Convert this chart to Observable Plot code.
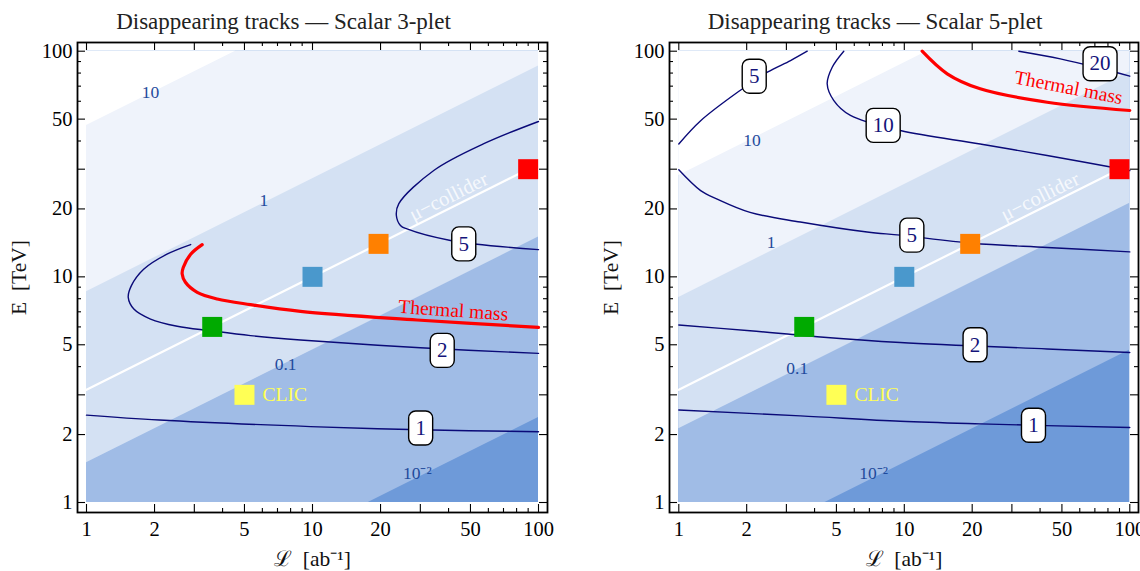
<!DOCTYPE html>
<html><head><meta charset="utf-8">
<script src="https://cdn.jsdelivr.net/npm/d3@7"></script>
<script src="https://cdn.jsdelivr.net/npm/@observablehq/plot@0.6"></script>
<style>
body{margin:0;background:#fff;}
#wrap{display:flex;width:1140px;height:571px;overflow:hidden;}
#wrap svg{display:block;flex:none;}
</style></head><body><div id="wrap"></div>
<script>
// ---------------- data ----------------
const xMajor = [1, 2, 3, 5, 10, 20, 30, 50, 100];
const xMinor = [4, 6, 7, 8, 9, 40, 60, 70, 80, 90];
const tickLabels = [1, 2, 5, 10, 20, 50, 100];

// band boundaries: straight lines E = E1 * L^slope (E1 = value at L = 1), ordered D, C, B, A
const bandSlope = 0.5;
const bandColors = ["#6e9ad9", "#a0bce6", "#d4e1f3", "#eff3fb", "#ffffff"];
const bandLabels = ["10⁻²", "0.1", "1", "10"];
const bandE1_3 = [0.238, 1.5, 8.6, 46.8];
const bandLabelL_3 = [29.1, 7.6, 6.09, 1.92];
const bandLabelE_3 = [1.34, 4.11, 21.8, 65.6];
const bandE1_5 = [0.474, 2.12, 8.1, 28.1];
const bandLabelL_5 = [7.32, 3.35, 2.57, 2.11];
const bandLabelE_5 = [1.34, 3.91, 14.2, 40.2];

// muon-collider line and benchmark points
const muL = [1, 90];
const muE = [3.16, 30];
const colliderNames = ["CLIC", "μC 6 TeV", "μC 10 TeV", "μC 14 TeV", "μC 30 TeV"];
const colliderL = [5, 3.6, 10, 19.6, 90];
const colliderE = [3, 6, 10, 14, 30];
const colliderColors = ["#ffff55", "#00aa00", "#4a98cc", "#ff8000", "#ff0000"];

// Scalar 3-plet contours
const c3_1_L = [1, 2.1, 9.8, 30, 100];
const c3_1_E = [2.44, 2.32, 2.17, 2.10, 2.06];
const c3_2_L = [2.89, 2.27, 1.79, 1.58, 1.53, 1.62, 1.92, 2.52, 3.54, 5.32, 8.85, 30, 100];
const c3_2_E = [13.9, 12.6, 10.8, 9.14, 8.11, 7.20, 6.50, 6.04, 5.77, 5.49, 5.25, 4.85, 4.58];
const c3_5_L = [100, 57.3, 34.4, 24.1, 23.5, 24.5, 26.2, 40.8, 100];
const c3_5_E = [48.8, 38.9, 29.6, 21.1, 18.7, 16.9, 16.3, 14.5, 13.2];
const th3_L = [3.25, 2.89, 2.68, 2.65, 2.74, 3.09, 3.79, 5.32, 8.85, 29, 100];
const th3_E = [13.9, 12.6, 11.0, 10.3, 9.46, 8.54, 7.98, 7.53, 7.03, 6.44, 5.97];
const box3_T = ["5", "2", "1"];
const box3_L = [46.7, 37.5, 30.1];
const box3_E = [14.0, 4.72, 2.14];

// Scalar 5-plet contours
const c5_1_L = [1, 3.46, 9.6, 21.7, 100];
const c5_1_E = [2.57, 2.42, 2.29, 2.23, 2.15];
const c5_2_L = [1, 2.07, 4.11, 9.6, 43, 100];
const c5_2_E = [6.12, 5.77, 5.43, 5.12, 4.79, 4.62];
const c5_5a_L = [1, 1.25, 1.87, 2.47, 3.13, 3.71];
const c5_5a_E = [38.8, 49.2, 67, 80.7, 90.9, 100];
const c5_5b_L = [1, 1.25, 1.48, 2.07, 3.46, 6.84, 9.6, 20, 43, 100];
const c5_5b_E = [29.8, 24.1, 22.1, 19.3, 17.5, 15.8, 15.3, 14.1, 13.5, 12.9];
const c5_10_L = [5.39, 4.79, 4.55, 4.87, 5.77, 9.6, 21.7, 43, 100];
const c5_10_E = [100, 84.9, 71.7, 60.4, 51.9, 44.5, 38.8, 34.5, 29.6];
const c5_20_L = [32.2, 49.2, 73.8, 100];
const c5_20_E = [100, 92.5, 84, 77.5];
const th5_L = [12.0, 15.5, 21.7, 43, 100];
const th5_E = [100, 79.4, 68.1, 59.4, 54.6];
const box5_T = ["5", "10", "5", "2", "1", "20"];
const box5_L = [2.16, 8.06, 10.8, 20.6, 37.4, 73.8];
const box5_E = [77.5, 46.9, 15.3, 5.0, 2.20, 88];

// ---------------- helpers ----------------
const FONT = "'Liberation Serif','Times New Roman',serif";
const NAVY = "#0a0a78";
const zip = (a, b) => a.map((v, i) => [v, b[i]]);

function roundBox(w, h, r) {
  return {draw(ctx) {
    const x0 = -w / 2, y0 = -h / 2, x1 = w / 2, y1 = h / 2;
    ctx.moveTo(x0 + r, y0);
    ctx.lineTo(x1 - r, y0);
    ctx.arcTo(x1, y0, x1, y0 + r, r);
    ctx.lineTo(x1, y1 - r);
    ctx.arcTo(x1, y1, x1 - r, y1, r);
    ctx.lineTo(x0 + r, y1);
    ctx.arcTo(x0, y1, x0, y1 - r, r);
    ctx.lineTo(x0, y0 + r);
    ctx.arcTo(x0, y0, x0 + r, y0, r);
    ctx.closePath();
  }};
}
const boxNarrow = roundBox(24, 34, 7);
const boxWide = roundBox(34, 34, 7);

function panel(cfg) {
  const W = 570, H = 571, mT = 42, mB = 59;
  const frameW = W - cfg.mL - cfg.mR, frameH = H - mT - mB;
  const marks = [];
  // bands (painted from the darkest one upward)
  marks.push(Plot.area([1, 100], {x1: d => d, y1: () => 1, y2: () => 100, fill: bandColors[0]}));
  cfg.bandE1.forEach((a, i) => {
    const xs = [1, 100];
    const k1 = Math.pow(1 / a, 1 / bandSlope), k2 = Math.pow(100 / a, 1 / bandSlope);
    if (k1 > 1 && k1 < 100) xs.push(k1);
    if (k2 > 1 && k2 < 100) xs.push(k2);
    xs.sort((p, q) => p - q);
    const pts = xs.map(x => ({x, lo: Math.min(100, Math.max(1, a * Math.pow(x, bandSlope)))}));
    marks.push(Plot.area(pts, {x1: "x", y1: "lo", y2: () => 100, fill: bandColors[i + 1]}));
  });
  // band labels
  marks.push(Plot.text(bandLabels, {
    x: cfg.bandLabL, y: cfg.bandLabE, text: d => d,
    fill: "#1f4a9c", fontSize: 17.5, lineAnchor: "middle"
  }));
  // mu-collider line
  marks.push(Plot.line(zip(muL, muE), {x: d => d[0], y: d => d[1], stroke: "white", strokeWidth: 2.2}));
  marks.push(Plot.text(["μ−collider"], {
    x: [40], y: [22.7], text: d => d, fill: "white", fillOpacity: 0.8,
    fontSize: 20.5, rotate: -26.57, lineAnchor: "middle"
  }));
  // contours
  for (const [L, E] of cfg.contours) {
    marks.push(Plot.line(zip(L, E), {x: d => d[0], y: d => d[1], stroke: NAVY, strokeWidth: 1.4, curve: "catmull-rom"}));
  }
  // thermal mass
  marks.push(Plot.line(zip(cfg.thL, cfg.thE), {x: d => d[0], y: d => d[1], stroke: "#ff0000", strokeWidth: 3.2, curve: "catmull-rom"}));
  marks.push(Plot.text(["Thermal mass"], {
    x: [cfg.thLab[0]], y: [cfg.thLab[1]], text: d => d, fill: "#ff0000",
    fontSize: 19.5, rotate: cfg.thLab[2], lineAnchor: "middle"
  }));
  // collider points
  const pts = colliderNames.map((n, i) => ({n, L: colliderL[i], E: colliderE[i], c: colliderColors[i]}));
  marks.push(Plot.dot(pts, {x: "L", y: "E", fill: "c", symbol: "square", r: 11.28}));
  marks.push(Plot.text(pts.slice(0, 1), {
    x: "L", y: "E", text: () => "CLIC", textAnchor: "start", dx: 18,
    fill: "#ffff55", fontSize: 19.5, lineAnchor: "middle"
  }));
  // contour label boxes
  const boxes = cfg.boxT.map((t, i) => ({t, L: cfg.boxL[i], E: cfg.boxE[i]}));
  marks.push(Plot.dot(boxes.filter(d => d.t.length === 1), {x: "L", y: "E", symbol: boxNarrow, r: 5, fill: "white", stroke: "black", strokeWidth: 1.4}));
  marks.push(Plot.dot(boxes.filter(d => d.t.length > 1), {x: "L", y: "E", symbol: boxWide, r: 5, fill: "white", stroke: "black", strokeWidth: 1.4}));
  marks.push(Plot.text(boxes, {x: "L", y: "E", text: "t", fill: "#14147a", fontSize: 21, lineAnchor: "middle"}));
  // ticks (pointing inward on all four sides)
  marks.push(Plot.tickX(xMajor, {x: d => d, insetTop: frameH - 8, strokeWidth: 1.1}));
  marks.push(Plot.tickX(xMajor, {x: d => d, insetBottom: frameH - 8, strokeWidth: 1.1}));
  marks.push(Plot.tickX(xMinor, {x: d => d, insetTop: frameH - 4, strokeWidth: 1.1}));
  marks.push(Plot.tickX(xMinor, {x: d => d, insetBottom: frameH - 4, strokeWidth: 1.1}));
  marks.push(Plot.tickY(xMajor, {y: d => d, insetRight: frameW - 8, strokeWidth: 1.1}));
  marks.push(Plot.tickY(xMajor, {y: d => d, insetLeft: frameW - 8, strokeWidth: 1.1}));
  marks.push(Plot.tickY(xMinor, {y: d => d, insetRight: frameW - 4, strokeWidth: 1.1}));
  marks.push(Plot.tickY(xMinor, {y: d => d, insetLeft: frameW - 4, strokeWidth: 1.1}));
  marks.push(Plot.frame({stroke: "black", strokeWidth: 1.8}));
  // tick labels
  marks.push(Plot.text(tickLabels, {x: d => d, text: d => String(d), frameAnchor: "bottom", lineAnchor: "bottom", dy: 23, fontSize: 20.5, fill: "black"}));
  marks.push(Plot.text(tickLabels, {y: d => d, text: d => String(d), frameAnchor: "left", textAnchor: "end", lineAnchor: "middle", dx: -5, fontSize: 20.5, fill: "black"}));
  // titles and axis labels
  marks.push(Plot.text([cfg.title], {text: d => d, frameAnchor: "top", lineAnchor: "bottom", dx: -29, dy: -14, fontSize: 23, fill: "#222"}));
  marks.push(Plot.text(["E\u2002[TeV]"], {text: d => d, frameAnchor: "left", rotate: -90, dx: -58, textAnchor: "middle", lineAnchor: "middle", fontSize: 21.5, fill: "#111"}));
  marks.push(Plot.text(["ℒ\u2002[ab⁻¹]"], {text: d => d, frameAnchor: "bottom", lineAnchor: "bottom", dy: 53, fontSize: 21.5, fill: "#111"}));

  return Plot.plot({
    width: W, height: H,
    marginTop: mT, marginBottom: mB, marginLeft: cfg.mL, marginRight: cfg.mR,
    x: {type: "log", domain: [1, 100], insetLeft: cfg.insL, insetRight: cfg.insR, axis: null},
    y: {type: "log", domain: [1, 100], insetTop: 8.7, insetBottom: 10, axis: null},
    color: {type: "identity"},
    style: {fontFamily: FONT, fontSize: "20px", background: "#fff", overflow: "visible"},
    marks
  });
}

const wrap = document.getElementById("wrap");
wrap.append(panel({
  title: "Disappearing tracks — Scalar 3-plet",
  mL: 77, mR: 23, insL: 9, insR: 9,
  bandE1: bandE1_3, bandLabL: bandLabelL_3, bandLabE: bandLabelE_3,
  contours: [[c3_1_L, c3_1_E], [c3_2_L, c3_2_E], [c3_5_L, c3_5_E]],
  thL: th3_L, thE: th3_E, thLab: [42, 7.1, 4],
  boxT: box3_T, boxL: box3_L, boxE: box3_E
}));
wrap.append(panel({
  title: "Disappearing tracks — Scalar 5-plet",
  mL: 99, mR: 2, insL: 9.3, insR: 8.7,
  bandE1: bandE1_5, bandLabL: bandLabelL_5, bandLabE: bandLabelE_5,
  contours: [[c5_1_L, c5_1_E], [c5_2_L, c5_2_E], [c5_5a_L, c5_5a_E], [c5_5b_L, c5_5b_E], [c5_10_L, c5_10_E], [c5_20_L, c5_20_E]],
  thL: th5_L, thE: th5_E, thLab: [53.5, 69, 11],
  boxT: box5_T, boxL: box5_L, boxE: box5_E
}));
</script></body></html>
